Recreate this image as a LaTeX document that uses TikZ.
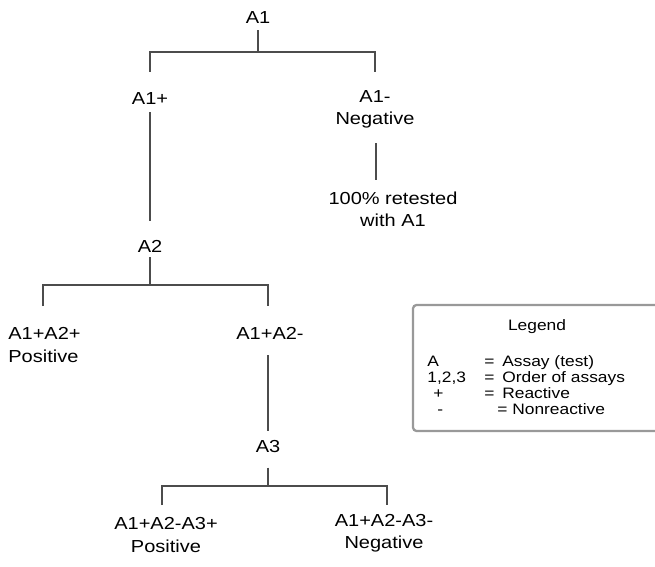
\documentclass[tikz,border=0pt]{standalone}
\usepackage{fontspec}
\setmainfont{Liberation Sans}[FakeStretch=1.15]
\usetikzlibrary{calc}

\tikzset{
  lbl/.style={inner sep=0pt, align=center, font=\fontsize{9.9}{12.6}\selectfont},
  branch/.style={draw=black!70, line width=1.3pt},
  keytxt/.style={inner sep=0pt, anchor=base west, font=\fontsize{8.6}{10}\selectfont},
}

\begin{document}
\begin{tikzpicture}[x=0.02cm,y=-0.02cm]
\useasboundingbox (0,0) rectangle (655,567);
% tree
\node[lbl] (a1) at (258,18) {A1};
\node[lbl] (a1p) at (150,99) {A1+};
\node[lbl] (a1n) at (375,109) {A1-\\Negative};
\node[lbl] (retest) at (393,209) {100\% retested\\with A1};
\node[lbl] (a2) at (150,246) {A2};
\node[lbl, align=left, anchor=west] (a2p) at (8,345) {A1+A2+\\Positive};
\node[lbl] (a2n) at (270,333) {A1+A2-};
\node[lbl] (a3) at (268,447) {A3};
\node[lbl] (a3p) at (166,535) {A1+A2-A3+\\Positive};
\node[lbl] (a3n) at (384,533) {A1+A2-A3-\\Negative};
% junctions
\coordinate (j1) at (258,52);
\coordinate (j2) at (150,285);
\coordinate (j3) at (268,486);
\coordinate (d1l) at (150,72);
\coordinate (d1r) at (375,72);
\coordinate (d2l) at (43,306);
\coordinate (d2r) at (268,306);
\coordinate (d3l) at (162,505);
\coordinate (d3r) at (387,505);
% connectors
\draw[branch] (a1.south) ++(0,6) -- (j1);
\draw[branch] (d1l) |- (j1) -| (d1r);
\draw[branch] (a1p.south) ++(0,7) -- ($(a2.north)+(0,-19)$);
\draw[branch] (a1n.south) ++(1,15) -- ($(a1n.south |- retest.north)+(1,-11)$);
\draw[branch] (a2.south) ++(0,5) -- (j2);
\draw[branch] (d2l) |- (j2) -| (d2r);
\draw[branch] (a2n.south -| a3) ++(0,16) -- ($(a3.north)+(0,-9)$);
\draw[branch] (a3.south) ++(0,14) -- (j3);
\draw[branch] (d3l) |- (j3) -| (d3r);
% legend
\draw[draw=black!40, line width=1.3pt, rounded corners=2pt] (680,305) -- (413,305) -- (413,431) -- (680,431);
\node[lbl, font=\fontsize{8.6}{10}\selectfont] (ltitle) at (537,327) {Legend};
\node[keytxt] (ka) at (427,366) {A};
\node[keytxt] (kaeq) at (484,366) {=};
\node[keytxt] (katx) at (502,366) {Assay (test)};
\node[keytxt] (kn) at (427,382) {1,2,3};
\node[keytxt] (kneq) at (484,382) {=};
\node[keytxt] (kntx) at (502,382) {Order of assays};
\node[keytxt] (kp) at (433,398) {+};
\node[keytxt] (kpeq) at (484,398) {=};
\node[keytxt] (kptx) at (502,398) {Reactive};
\node[keytxt] (km) at (437,414) {-};
\node[keytxt] (kmtx) at (497,414) {= Nonreactive};
\end{tikzpicture}
\end{document}
